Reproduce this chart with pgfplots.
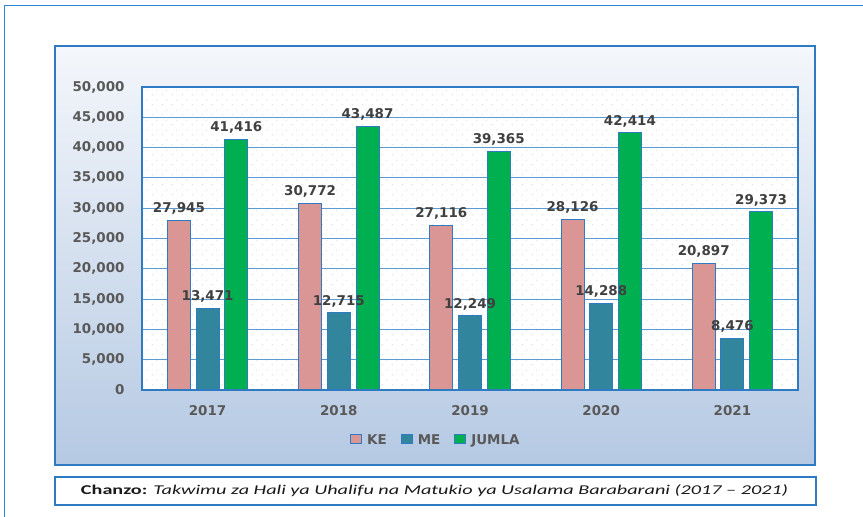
\documentclass[border=0pt]{standalone}
\usepackage{fontspec}
\setmainfont{DejaVu Sans}
\newfontfamily\carlito{Carlito}
\usepackage{graphicx}
\usepackage{pgfplots}
\pgfplotsset{compat=1.18}
\usetikzlibrary{patterns.meta}
\definecolor{ke}{HTML}{D99694}
\definecolor{me}{HTML}{31859C}
\definecolor{jumla}{HTML}{00B050}
\definecolor{bordr}{HTML}{2E7BC4}
\definecolor{frame}{HTML}{2A86D8}
\definecolor{gridc}{HTML}{5B9BD5}
\definecolor{txt}{HTML}{595959}
\definecolor{lbl}{HTML}{404040}
\definecolor{bgtop}{HTML}{F4F7FB}
\definecolor{bgbot}{HTML}{B5C9E3}
\definecolor{dotc}{HTML}{C8DDD2}
\pgfkeys{/pgf/number format/.cd, 1000 sep={,}, assume math mode=true}
\tikzdeclarepattern{name=softdots, type=uncolored,
  bounding box={(0bp,0bp) and (10bp,10bp)}, tile size={(10bp,10bp)},
  code={\fill (2.5bp,2.5bp) circle (0.7bp); \fill (7.5bp,7.5bp) circle (0.7bp);}}
\newcommand{\lblfont}{\bfseries\fontsize{13.5}{15}\selectfont}
\begin{document}
\begin{tikzpicture}[x=1bp,y=1bp]
\useasboundingbox (0,0) rectangle (863,517);
\draw[frame, line width=1bp] (4,0) -- (4,511) -- (863,511);
\draw[bordr, line width=1.6bp, top color=bgtop, bottom color=bgbot] (55,52) rectangle (815,471);
\begin{axis}[
  at={(142bp,127bp)}, anchor=south west,
  scale only axis, width=656bp, height=303bp,
  xmin=-0.5, xmax=4.5, ymin=0, ymax=50000,
  xtick={0,1,2,3,4}, xticklabels={2017,2018,2019,2020,2021},
  ytick={0,5000,...,50000},
  scaled y ticks=false,
  ymajorgrids, grid style={gridc, line width=1bp},
  axis line style={bordr, line width=1.3bp},
  major tick length=0pt, tick style={draw=none},
  tick label style={font=\lblfont, text=txt},
  xticklabel style={yshift=-12bp},
  yticklabel style={xshift=-14bp},
  ybar=5.7bp, bar width=23bp,
  axis background/.style={fill=white, postaction={pattern=softdots, pattern color=dotc}},
  nodes near coords,
  every node near coord/.append style={font=\lblfont, text=lbl, yshift=2bp},
  legend style={at={(0.448,-0.165)}, anchor=center, draw=none, fill=none,
    legend columns=3, font=\lblfont, text=txt,
    /tikz/every odd column/.append style={column sep=3bp},
    /tikz/every even column/.append style={column sep=12bp}},
  legend image code/.code={\draw[#1, draw=bordr, line width=1bp] (0bp,-4bp) rectangle (11bp,5bp);},
]
\addplot[fill=ke, draw=bordr, line width=1bp] coordinates {(0,27945) (1,30772) (2,27116) (3,28126) (4,20897)};
\addplot[fill=me, draw=bordr, line width=1bp] coordinates {(0,13471) (1,12715) (2,12249) (3,14288) (4,8476)};
\addplot[fill=jumla, draw=bordr, line width=1bp] coordinates {(0,41416) (1,43487) (2,39365) (3,42414) (4,29373)};
\legend{KE,ME,JUMLA}
\end{axis}
\draw[bordr, line width=1.6bp, fill=white] (55,12) rectangle (816,40);
\node[text=black!90] at (434.5,26) {\resizebox{707bp}{\height}{\carlito\fontsize{13.5}{15}\selectfont\textbf{Chanzo:} \textit{Takwimu za Hali ya Uhalifu na Matukio ya Usalama Barabarani (2017 – 2021)}}};
\end{tikzpicture}
\end{document}
